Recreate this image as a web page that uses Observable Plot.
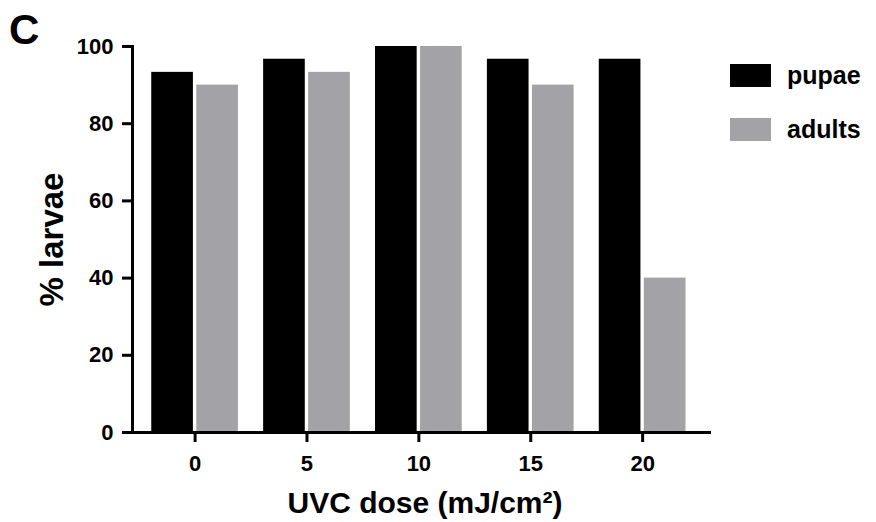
<!DOCTYPE html>
<html>
<head>
<meta charset="utf-8">
<script src="https://cdn.jsdelivr.net/npm/d3@7"></script>
<script src="https://cdn.jsdelivr.net/npm/@observablehq/plot@0.6"></script>
<style>
  body { margin: 0; background: #fff; }
  #wrap { position: relative; width: 876px; height: 522px; font-family: "Liberation Sans", Arial, Helvetica, sans-serif; font-weight: bold; color: #000; }
  #wrap svg { position: absolute; left: 0; top: 0; }
  .panel { position: absolute; left: 9px; top: 4px; font-size: 42px; line-height: 52px; }
  .legend { position: absolute; left: 730px; top: 63px; }
  .item { display: flex; align-items: center; height: 24px; margin-bottom: 30px; }
  .sw { width: 41px; height: 23px; margin-right: 16px; }
  .lab { font-size: 25px; line-height: 24px; }
</style>
</head>
<body>
<div id="wrap"></div>
<script>
const doses = ["0", "5", "10", "15", "20"];
const series = ["pupae", "adults"];
const pupae = [93.3, 96.7, 100, 96.7, 96.7];
const adults = [90, 93.3, 100, 90, 40];
const yTicks = [0, 20, 40, 60, 80, 100];
const colors = ["#000000", "#a3a3a7"];
const panelLabel = "C";
const xLabel = "UVC dose (mJ/cm²)";
const yLabel = "% larvae";

const data = doses.flatMap((d, i) => [
  {dose: d, series: series[0], value: pupae[i]},
  {dose: d, series: series[1], value: adults[i]}
]);

const W = 876, H = 522, mL = 132, mR = 165, mT = 46, mB = 90;
const padIn = 0.225, padOut = 0.2, gap = 3.4;
const step = (W - mL - mR) / (doses.length - padIn + 2 * padOut);
const bw = step * (1 - padIn);
const barW = (bw - gap) / 2;
const inset = bw - barW;

const chart = Plot.plot({
  width: W, height: H,
  marginLeft: mL, marginRight: mR, marginTop: mT, marginBottom: mB,
  style: {fontFamily: '"Liberation Sans", Arial, Helvetica, sans-serif', fontWeight: "bold", background: "transparent", color: "#000", overflow: "visible"},
  x: {domain: doses, paddingInner: padIn, paddingOuter: padOut, align: 0.43, round: false, axis: null},
  y: {domain: [0, 100], axis: null},
  color: {domain: series, range: colors},
  marks: [
    Plot.barY(data.filter(d => d.series === series[0]), {x: "dose", y: "value", fill: "series", insetRight: inset}),
    Plot.barY(data.filter(d => d.series === series[1]), {x: "dose", y: "value", fill: "series", insetLeft: inset}),
    Plot.frame({anchor: "left", stroke: "#000", strokeWidth: 3}),
    Plot.ruleY([0], {stroke: "#000", strokeWidth: 3}),
    Plot.axisY({ticks: yTicks, tickSize: 10, tickPadding: 9, strokeWidth: 3, fontSize: 22, fontWeight: "bold", label: null}),
    Plot.axisX({tickSize: 10, tickPadding: 13, strokeWidth: 3, fontSize: 22, fontWeight: "bold", label: null}),
    Plot.text([xLabel], {text: d => d, frameAnchor: "bottom", dx: 3, dy: 71, textAnchor: "middle", lineAnchor: "middle", fontSize: 30, fontWeight: "bold"}),
    Plot.text([yLabel], {text: d => d, frameAnchor: "left", dx: -80, rotate: -90, textAnchor: "middle", lineAnchor: "middle", fontSize: 33, fontWeight: "bold"})
  ]
});

const wrap = document.getElementById("wrap");
wrap.appendChild(chart);

const p = document.createElement("div");
p.className = "panel";
p.textContent = panelLabel;
wrap.appendChild(p);

const leg = document.createElement("div");
leg.className = "legend";
series.forEach((s, i) => {
  const it = document.createElement("div");
  it.className = "item";
  const sw = document.createElement("div");
  sw.className = "sw";
  sw.style.background = colors[i];
  const lb = document.createElement("span");
  lb.className = "lab";
  lb.textContent = s;
  it.appendChild(sw);
  it.appendChild(lb);
  leg.appendChild(it);
});
wrap.appendChild(leg);
</script>
</body>
</html>
